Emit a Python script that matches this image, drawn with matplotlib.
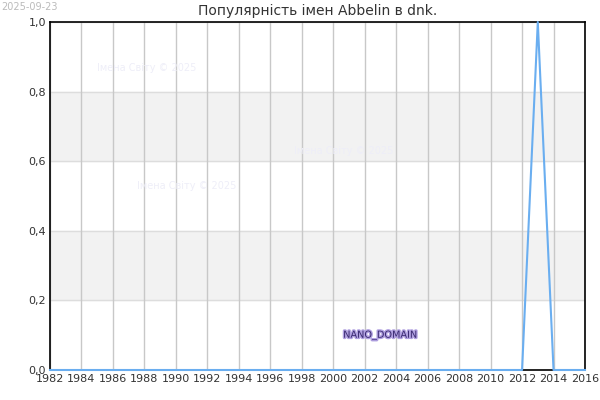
import matplotlib
matplotlib.use('Agg')
import matplotlib.pyplot as plt
import matplotlib.patheffects as pe

years = list(range(1982, 2017))
values = [0.0] * len(years)
values[years.index(2013)] = 1.0
x_ticks = list(range(1982, 2017, 2))
y_ticks = [0.0, 0.2, 0.4, 0.6, 0.8, 1.0]

fig = plt.figure(figsize=(6, 4), dpi=100)
ax = fig.add_axes([50 / 600, 30 / 400, 535 / 600, 348 / 400])
ax.set_xlim(1982, 2016)
ax.set_ylim(0, 1)

for lo in (0.2, 0.6):
    ax.axhspan(lo, lo + 0.2, color='#f2f2f2', zorder=0)
for y in y_ticks:
    ax.axhline(y, color='#dddddd', lw=1, zorder=1)
for x in x_ticks:
    ax.axvline(x, color='#c8c8c8', lw=1, zorder=1)

ax.plot(years, values, color='#6aaef0', lw=1.5, zorder=3, clip_on=False)

ax.set_xticks(x_ticks)
ax.set_yticks(y_ticks)
ax.set_yticklabels([f'{v:.1f}'.replace('.', ',') for v in y_ticks])
ax.tick_params(labelsize=8, colors='#333333', length=0, pad=3)
for s in ax.spines.values():
    s.set_color('black')
    s.set_linewidth(1.2)

ax.set_title('Популярність імен Abbelin в dnk.', fontsize=10, color='#333333', pad=5)
fig.text(0.002, 0.995, '2025-09-23', fontsize=7, color='#bbbbbb', va='top')

for tx, ty in [(1985, 0.86), (1997.5, 0.62), (1987.5, 0.52)]:
    ax.text(tx, ty, 'Імена Світу © 2025', fontsize=7, color='#eeeef8', zorder=2)

ax.text(2003, 0.1, 'NANO_DOMAIN', fontsize=7, color='#3a2a70', ha='center', va='center', zorder=4,
        path_effects=[pe.withStroke(linewidth=2, foreground='#b0a0e0')])

fig.savefig('out.png')
